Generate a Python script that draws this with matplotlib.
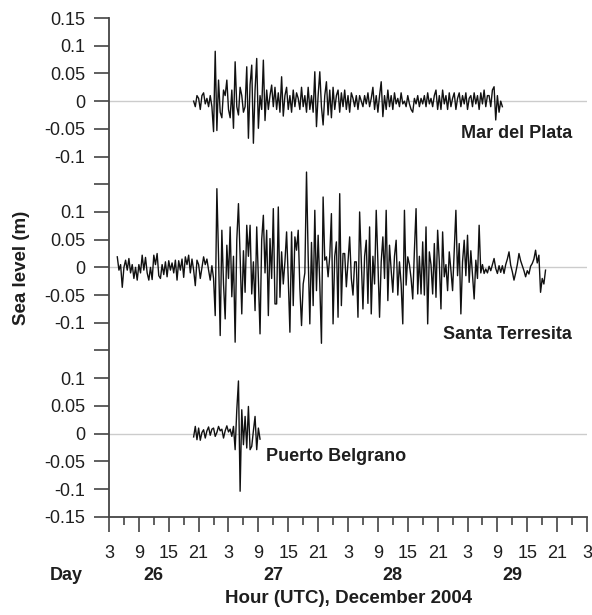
import numpy as np
import matplotlib
matplotlib.use("Agg")
import matplotlib.pyplot as plt
from matplotlib.ticker import FixedLocator, MultipleLocator

plt.rcParams["font.family"] = ["Liberation Sans", "DejaVu Sans"]

# sampling: one value every 20 minutes, hours counted from Dec 26 00:00 UTC
step_h = 1.0 / 3.0

# Mar del Plata, sea level residual (cm), starts 26 Dec 20:00
mdp_start = 20.0
mdp_cm = [
    0, -1, 1, 0.5, -1.5, 1, 1.5, -0.5, 0.5, -1, 1, -1,
    -5.5, 9, -5.3, 3.8, -2, -3, 2, 1, 3.8, -1.5, -3, 2,
    -4.9, 7.1, -1, -2.5, 2.5, 1, -2, -1, 6.2, -6.7, 3, 6.5,
    -7.6, 2, 7.7, -4.9, 1, -1.5, 7.4, -3.5, 2, -1.5, 1, 2.9,
    -1, 2.5, -1.5, 1.5, -2, 4.4, -2.7, 1, 2.5, -1.5, 1, -2,
    2, -1, 1.5, 0.5, -1.5, 2.5, -1, 1, -2, 2.5, -1.5, 1,
    -2, 5.3, -4.6, 1, 5.3, -1, -4.3, 1, 3.5, -2.5, 2, -3,
    2.5, -1.5, 1, 2, -2, 1.5, -1, 2, -1.5, 1, -2, 1.5,
    0.5, -1, 1, -1.5, 1, 0, -1, 1, -0.5, 1.5, -1, 0.5,
    2.5, -1.5, 1, -2, 1, 3.5, -2.8, 1, -1.5, 2, -1, 1,
    -1.5, 1.5, -0.5, 0.5, -1, 1.5, -0.5, 0, -1, 1, -0.5, -1.5,
    -2, 0.5, -0.5, 1, -1, 0.5, -0.5, 1, -1, 1.5, -0.5, 0.5,
    -1, 1, 2, -1.5, 1, -1.5, 2, -0.5, 1, -1.5, 1.5, -1,
    0.5, 1.5, -1.5, 0.5, 1.5, -1, 1, -0.5, 1.5, -1.5, 0.5, 1,
    -1, 1.5, -0.5, 1, -1.5, 1.5, -0.5, 2, -1, 1, 1, -1,
    2, 2.6, -3.4, 1, -2, 0, -1,
]

# Santa Teresita (cm), starts 26 Dec 04:40
st_start = 4.0 + 2.0 / 3.0
st_cm = [
    1.9, -0.5, 0.5, -3.6, 0, 1.3, -0.5, 1.6, -1, 0.5, -2, 0,
    -2.3, 0.5, -1, 2.2, -0.5, 1.8, -1, -2.3, 0, -2.2, 2.2, 0.5,
    2.5, -1.5, -2, 0.5, -1.3, 1, -1.7, 1.2, -0.5, 0.8, -1, 1.3,
    -2.3, 1.2, -0.5, 1.5, -1.8, 1.9, 0.5, 2.2, -1, 1.5, -0.5, -3.3,
    1.3, 0.5, -2, 0, 1.9, 0.5, 1.5, -0.5, -2.3, 0.3, -2, -8.7,
    14.2, 2, -12.3, 6.7, -3, -9.3, 4, -2, 7.3, -5.3, 2, -13.5,
    5, 11.5, 2, -8.4, 3, -4.5, 7.6, 2, 7.6, -4.8, 1, -7.8,
    7.3, -2, -12, 5, 9.4, -1, 6.7, -8.7, 5.2, -2, 10.6, -6.6,
    -6.6, 10.9, -5.4, 2.8, -3, 1, 6.4, -2, -11.7, 6.4, -6.9, 5.5,
    3.1, 6.7, -3.8, -10.5, -3, -1, 17.2, 2, -10.2, 4.5, -6.9, 10.3,
    -4.2, 5.8, -3, -13.7, 12.7, 1.3, 1.9, -1.7, 2, 9.7, -10.2, 2,
    4.6, -9, 13.3, -6.9, 2.5, 2.5, -3.5, 1, 5.5, -2, -5, 1,
    1, -9, 10, 1, -7.5, 2, 4.9, -6.5, 7.3, -8.4, 2, -3,
    10.3, 1, -9, 1, 5.5, -2, 10.3, -6, 4, -0.5, -4.5, 2,
    4.9, -5, 1, -3, -10.2, 10.3, -3.2, 1.9, 0.5, -2, -5.7, 3,
    10.6, -4.8, 2, -4.8, 4.6, -5, 7.3, -10.2, 2.8, 0.5, -4.8, 4.3,
    -5.4, 6.7, 1, -7.5, 6.4, -1.7, 0.5, -4.2, 2.8, -0.5, -4.2, 3,
    10.3, -1.5, 4.3, -8.4, 1, 4.9, -1.5, 5.8, -2.7, 3, -1.5, -5.7,
    1.3, -2, 7.6, -1, 0.5, -1.1, -0.3, -1, 0.2, -0.6, 0.5, 1.6,
    -0.2, -1.1, 0.3, -0.9, 0.3, -1.1, 0.5, 1.5, 2.8, 0.4, -0.8, -2.3,
    -1, 0.5, 2.5, 1.2, 0.3, -0.6, -1.7, -0.6, -1.2, 0.2, 0.7, 1.5,
    3.1, 0.8, 2.2, -4.5, -2, -3, -0.5,
]

# Puerto Belgrano (cm), starts 26 Dec 20:00
pb_start = 20.0
pb_cm = [
    -0.6, 1.3, -1.1, 1, -1.2, 0.2, 0.7, -0.8, 0.5, 1.2, -0.3, 0.8,
    1.0, -0.5, 0.2, 1.3, 0.5, 0.8, -0.8, 0.5, 1.4, 0.3, 0.8, -0.5,
    1.3, -2.9, 4.3, 9.5, -10.4, 4.3, -2, 3.1, -2.6, 4.9, -2.9, -2.3,
    0.5, 3.1, -2.9, 1, -1,
]

stations = ["Mar del Plata", "Santa Terresita", "Puerto Belgrano"]
offsets = [0.6, 0.3, 0.0]

ytick_pos = [-0.15, -0.1, -0.05, 0, 0.05, 0.1, 0.15, 0.2, 0.25, 0.3,
             0.35, 0.4, 0.45, 0.5, 0.55, 0.6, 0.65, 0.7, 0.75]
ytick_labels = ["-0.15", "-0.1", "-0.05", "0", "0.05", "0.1", "",
                "-0.1", "-0.05", "0", "0.05", "0.1", "",
                "-0.1", "-0.05", "0", "0.05", "0.1", "0.15"]

hour_ticks = list(range(3, 100, 6))
day_names = ["26", "27", "28", "29"]
day_centers = [12, 36, 60, 84]

spine_col = "#444444"
text_col = "#1e1e1e"

fig = plt.figure(figsize=(5.92, 6.15), dpi=100)
ax = fig.add_axes([0.1841, 0.1598, 0.8075, 0.8109])

for off in offsets:
    ax.axhline(off, color="#cccccc", lw=1.0, zorder=1)

series = [(mdp_start, mdp_cm), (st_start, st_cm), (pb_start, pb_cm)]
for (start, vals), off in zip(series, offsets):
    v = np.array(vals) / 100.0
    t = start + np.arange(len(v)) * step_h
    ax.plot(t, off + v, color="#111111", lw=1.0, zorder=2)

ax.set_xlim(3, 99)
ax.set_ylim(-0.15, 0.75)

ax.spines["top"].set_visible(False)
ax.spines["right"].set_visible(False)
for s in ("left", "bottom"):
    ax.spines[s].set_color(spine_col)
    ax.spines[s].set_linewidth(1.3)

ax.yaxis.set_major_locator(FixedLocator(ytick_pos))
ax.set_yticklabels(ytick_labels)
ax.xaxis.set_major_locator(FixedLocator(hour_ticks))
ax.set_xticklabels([str(h % 24) for h in hour_ticks])
ax.xaxis.set_minor_locator(MultipleLocator(3))

ax.tick_params(axis="y", which="major", direction="out", length=11,
               width=1.2, color=spine_col, pad=6, labelsize=13,
               labelcolor=text_col)
ax.tick_params(axis="x", which="major", direction="out", length=11,
               width=1.2, color=spine_col, pad=9, labelsize=13,
               labelcolor=text_col)
ax.tick_params(axis="x", which="minor", direction="out", length=5.5,
               width=1.2, color=spine_col)

# station names
ax.text(96, 0.542, stations[0], ha="right", va="center",
        fontsize=13, fontweight="bold", color=text_col)
ax.text(96, 0.179, stations[1], ha="right", va="center",
        fontsize=13, fontweight="bold", color=text_col)
ax.text(34.5, -0.041, stations[2], ha="left", va="center",
        fontsize=13, fontweight="bold", color=text_col)

# day row
trans = ax.get_xaxis_transform()
for d, c in zip(day_names, day_centers):
    ax.text(c, -0.117, d, transform=trans, ha="center", va="center",
            fontsize=13, fontweight="bold", color=text_col)
fig.text(0.140, 0.065, "Day", ha="right", va="center",
         fontsize=13, fontweight="bold", color=text_col)

fig.text(0.588, 0.0276, "Hour (UTC), December 2004", ha="center",
         va="center", fontsize=13.5, fontweight="bold", color=text_col)
fig.text(0.037, 0.565, "Sea level (m)", rotation=90, ha="center",
         va="center", fontsize=13.5, fontweight="bold", color=text_col)

fig.savefig("out.png", dpi=100)
